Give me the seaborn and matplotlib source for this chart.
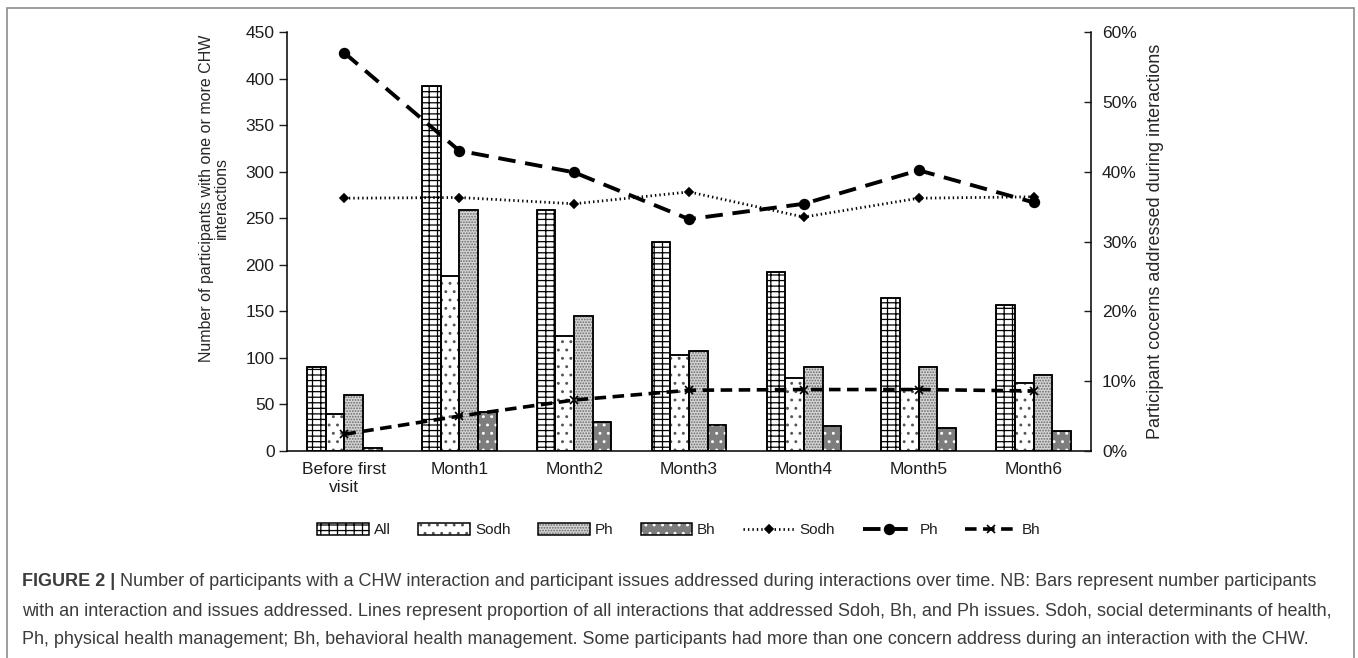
import matplotlib

matplotlib.use("Agg")
import matplotlib.pyplot as plt
import numpy as np
import pandas as pd
import seaborn as sns
from matplotlib.legend_handler import HandlerTuple
from matplotlib.patches import Patch, Rectangle
from matplotlib.ticker import PercentFormatter

# data
categories = ["Before first\nvisit", "Month1", "Month2", "Month3", "Month4", "Month5", "Month6"]
bar_groups = ["All", "Sodh", "Ph", "Bh"]
n_all = [90, 392, 259, 225, 192, 164, 157]
n_sodh = [40, 188, 124, 103, 78, 67, 73]
n_ph = [60, 259, 145, 107, 90, 90, 82]
n_bh = [3, 42, 31, 28, 27, 25, 21]

line_groups = ["Sodh", "Ph", "Bh"]
pct_sodh = [36.2, 36.3, 35.4, 37.1, 33.5, 36.2, 36.4]
pct_ph = [57.0, 43.0, 39.9, 33.2, 35.4, 40.2, 35.6]
pct_bh = [2.4, 5.0, 7.3, 8.7, 8.8, 8.8, 8.6]

caption_lines = [
    "Number of participants with a CHW interaction and participant issues addressed during "
    "interactions over time. NB: Bars represent number participants",
    "with an interaction and issues addressed. Lines represent proportion of all interactions "
    "that addressed Sdoh, Bh, and Ph issues. Sdoh, social determinants of health,",
    "Ph, physical health management; Bh, behavioral health management. Some participants had "
    "more than one concern address during an interaction with the CHW.",
]

# face colour, hatch, hatch colour
BAR_STYLE = {
    "All": ("white", "---||", "black"),
    "Sodh": ("white", "..", "#555555"),
    "Ph": ("#d6d6d6", "......", "#6a6a6a"),
    "Bh": ("#7d7d7d", "..", "white"),
}
LINE_STYLE = {  # linewidth, markersize, marker
    "Sodh": (2.0, 4.5, "D"),
    "Ph": (2.8, 7, "o"),
    "Bh": (2.6, 6, "x"),
}

sns.set_theme(style="white")
plt.rcParams.update(
    {
        "font.family": ["Liberation Sans", "DejaVu Sans"],
        "hatch.linewidth": 0.9,
        "text.color": "#1e1e1e",
        "xtick.color": "#1e1e1e",
        "ytick.color": "#1e1e1e",
    }
)

bars = pd.DataFrame(
    {
        "period": np.tile(categories, len(bar_groups)),
        "group": np.repeat(bar_groups, len(categories)),
        "count": n_all + n_sodh + n_ph + n_bh,
    }
)
lines = pd.DataFrame(
    {
        "pos": np.tile(np.arange(len(categories)), len(line_groups)),
        "issue": np.repeat(line_groups, len(categories)),
        "pct": pct_sodh + pct_ph + pct_bh,
    }
)

fig = plt.figure(figsize=(13.58, 6.58), dpi=100)
W, H = 1358, 658
ax = fig.add_axes([287 / W, 1 - 451 / H, (1091 - 287) / W, (451 - 32) / H])

sns.barplot(
    data=bars,
    x="period",
    y="count",
    hue="group",
    hue_order=bar_groups,
    order=categories,
    palette={k: v[0] for k, v in BAR_STYLE.items()},
    width=0.65,
    edgecolor="black",
    linewidth=1.1,
    saturation=1,
    legend=False,
    ax=ax,
)

# hatch overlays so the hatch colour can differ from the outline
for container, name in zip(ax.containers, bar_groups):
    face, hatch, hcol = BAR_STYLE[name]
    for bar in container:
        z = bar.get_zorder()
        ax.add_patch(
            Rectangle(bar.get_xy(), bar.get_width(), bar.get_height(), facecolor="none",
                      edgecolor=hcol, linewidth=0, hatch=hatch, zorder=z + 0.1)
        )
        ax.add_patch(
            Rectangle(bar.get_xy(), bar.get_width(), bar.get_height(), fill=False,
                      edgecolor="black", linewidth=1.1, zorder=z + 0.2)
        )

ax.set_xlim(-0.5, len(categories) - 0.5)
ax.set_ylim(0, 450)
ax.set_yticks(np.arange(0, 451, 50))
ax.set_xlabel("")
ax.set_ylabel("Number of participants with one or more CHW\ninteractions", fontsize=11.5,
              ha="center", va="center", linespacing=1.0)
ax.yaxis.set_label_coords(-0.091, 0.604)
ax.tick_params(axis="y", direction="out", length=6, width=1, pad=3, labelsize=12.5, left=True)
ax.tick_params(axis="x", length=0, pad=8, labelsize=12.5)
for s in ["top", "right"]:
    ax.spines[s].set_visible(False)
for s in ["left", "bottom"]:
    ax.spines[s].set_color("black")
    ax.spines[s].set_linewidth(1.1)

ax2 = ax.twinx()
sns.lineplot(
    data=lines,
    x="pos",
    y="pct",
    hue="issue",
    style="issue",
    hue_order=line_groups,
    style_order=line_groups,
    palette={k: "black" for k in line_groups},
    dashes={"Sodh": (0.5, 1.1), "Ph": (4.5, 2.5), "Bh": (3.2, 1.8)},
    markers={"Sodh": "D", "Ph": "o", "Bh": "X"},
    ax=ax2,
)
leg = ax2.get_legend()
line_handles = list(leg.legend_handles)
leg.remove()
for ln, h, name in zip(ax2.lines, line_handles, line_groups):
    lw, ms, mk = LINE_STYLE[name]
    for art in (ln, h):
        art.set_linewidth(lw)
        art.set_marker(mk)
        art.set_markersize(ms)
        art.set_color("black")
        art.set_markeredgecolor("black")
        art.set_markerfacecolor("black")
        art.set_markeredgewidth(1.2)

ax2.set_xlim(-0.5, len(categories) - 0.5)
ax2.set_ylim(0, 60)
ax2.set_yticks(np.arange(0, 61, 10))
ax2.yaxis.set_major_formatter(PercentFormatter(100, decimals=0))
ax2.set_xlabel("")
ax2.set_ylabel("Participant cocerns addressed during interactions", fontsize=13, labelpad=7)
ax2.tick_params(axis="y", direction="in", length=5, width=1, pad=8, labelsize=12.5, right=True)
for s in ["top", "left", "bottom"]:
    ax2.spines[s].set_visible(False)
ax2.spines["right"].set_color("black")
ax2.spines["right"].set_linewidth(1.1)

bar_handles = []
for name in bar_groups:
    face, hatch, hcol = BAR_STYLE[name]
    bar_handles.append(
        (
            Patch(facecolor=face, edgecolor="none"),
            Patch(facecolor="none", edgecolor=hcol, linewidth=0, hatch=hatch),
            Patch(fill=False, edgecolor="black", linewidth=1.1),
        )
    )

fig.legend(
    bar_handles + line_handles,
    bar_groups + line_groups,
    handler_map={tuple: HandlerTuple(ndivide=1, pad=0)},
    loc="center",
    bbox_to_anchor=(679 / W, 1 - 530 / H),
    ncol=7,
    frameon=False,
    fontsize=11,
    handlelength=3.4,
    handleheight=0.8,
    handletextpad=0.3,
    columnspacing=1.8,
)

# outer frame
fig.add_artist(
    Rectangle((7 / W, -0.01), (1354 - 7) / W, 1.01 - 8 / H, transform=fig.transFigure,
              fill=False, edgecolor="#8c8c8c", linewidth=1.2)
)

# caption
cap_kw = dict(fontsize=12.95, color="#3c3c3c", va="center", ha="left")
head = fig.text(22 / W, 1 - 582 / H, "FIGURE 2 |", fontweight="bold", **cap_kw)
fig.canvas.draw()
bb = head.get_window_extent().transformed(fig.transFigure.inverted())
fig.text(bb.x1 + 5 / W, 1 - 582 / H, caption_lines[0], **cap_kw)
for line, y in zip(caption_lines[1:], [611, 639]):
    fig.text(22 / W, 1 - y / H, line, **cap_kw)

fig.savefig("out.png", dpi=100)
